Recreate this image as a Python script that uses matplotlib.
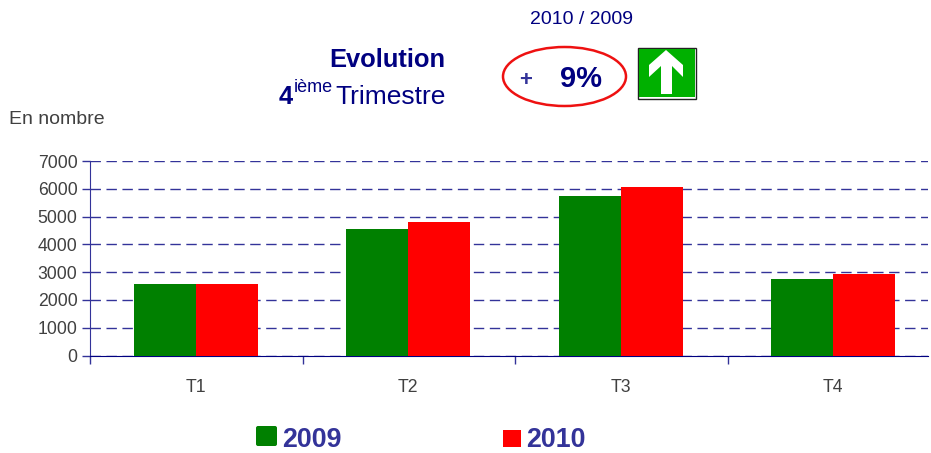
import matplotlib
matplotlib.use('Agg')
import matplotlib.pyplot as plt
from matplotlib.patches import Ellipse, Polygon, Rectangle, FancyBboxPatch

trimestres = ['T1', 'T2', 'T3', 'T4']
valeurs_2009 = [2560, 4570, 5750, 2770]
valeurs_2010 = [2590, 4790, 6050, 2920]
graduations = [0, 1000, 2000, 3000, 4000, 5000, 6000, 7000]

W, H = 931, 453
bleu = '#000080'
bleu2 = '#333399'
gris = '#404040'

plt.rcParams['font.family'] = ['Liberation Sans', 'DejaVu Sans']

fig = plt.figure(figsize=(W / 100, H / 100), dpi=100)

# axe principal, place en pixels
ax = fig.add_axes([90 / W, 1 - 355.5 / H, 838 / W, 194.5 / H])
pas = 212.5
ax.set_xlim(0, 838 / pas)
ax.set_ylim(0, 7000)
largeur = 0.292
x = [i + 0.498 for i in range(len(trimestres))]
ax.bar([v - largeur / 2 for v in x], valeurs_2009, largeur, color='#008000', zorder=3)
ax.bar([v + largeur / 2 for v in x], valeurs_2010, largeur, color='#ff0000', zorder=3)

ax.set_yticks(graduations)
ax.tick_params(axis='y', colors=gris, labelsize=12.7, length=6, width=1, color=bleu2, pad=3)
ax.set_xticks(range(4))
ax.set_xticks(x, minor=True)
ax.set_xticklabels(trimestres, minor=True)
ax.set_xticklabels([])
ax.tick_params(axis='x', which='major', length=6, width=1, color=bleu2)
ax.tick_params(axis='x', which='minor', length=0, labelsize=12.7, labelcolor=gris, pad=17)
ax.grid(True, axis='y', color=bleu2, lw=1, linestyle=(0, (7.5, 4)), zorder=1)
ax.set_axisbelow(True)
ax.spines['top'].set_visible(False)
ax.spines['right'].set_visible(False)
ax.spines['left'].set_color(bleu2)
ax.spines['bottom'].set_color(bleu)

# calque en pixels pour les textes et les dessins du haut
ov = fig.add_axes([0, 0, 1, 1])
ov.set_xlim(0, W)
ov.set_ylim(H, 0)
ov.axis('off')
ov.patch.set_alpha(0)

ov.text(9, 119.5, 'En nombre', fontsize=14, color=gris, va='center')
ov.text(581, 19, '2010 / 2009', fontsize=14, color=bleu, ha='center', va='center')
ov.text(445, 60, 'Evolution', fontsize=18.4, fontweight='bold', color=bleu, ha='right', va='center')
ov.text(445.5, 97, 'Trimestre', fontsize=19, color=bleu, ha='right', va='center')
ov.text(279, 97, '4', fontsize=18.4, fontweight='bold', color=bleu, va='center')
ov.text(294, 88, 'ième', fontsize=13, color=bleu, va='center')

ov.add_patch(Ellipse((564.5, 76.5), 123, 59, fc='none', ec='#ee1111', lw=1.8))
ov.text(526, 80, '+', fontsize=16, fontweight='bold', color=bleu2, ha='center', va='center')
ov.text(581, 79, '9%', fontsize=21, fontweight='bold', color=bleu, ha='center', va='center')

ov.add_patch(Rectangle((637.5, 47.5), 58.5, 51, fc='white', ec='#222222', lw=1))
ov.add_patch(Rectangle((639, 49), 55.5, 48, fc='#00b000', ec='none'))
ov.add_patch(Polygon([(666, 50), (683, 65), (683, 77), (672, 66), (672, 94),
                      (661, 94), (661, 66), (649, 77), (649, 65)], fc='white', ec='none'))

# legende
ov.add_patch(FancyBboxPatch((256, 426), 21, 20, boxstyle='round,pad=0,rounding_size=2',
                            fc='#008000', ec='none'))
ov.text(282, 440, '2009', fontsize=19.3, fontweight='bold', color=bleu2, va='center')
ov.add_patch(Rectangle((503, 430), 18, 17, fc='#ff0000', ec='none'))
ov.text(526, 440, '2010', fontsize=19.3, fontweight='bold', color=bleu2, va='center')

plt.savefig('out.png', dpi=100)
